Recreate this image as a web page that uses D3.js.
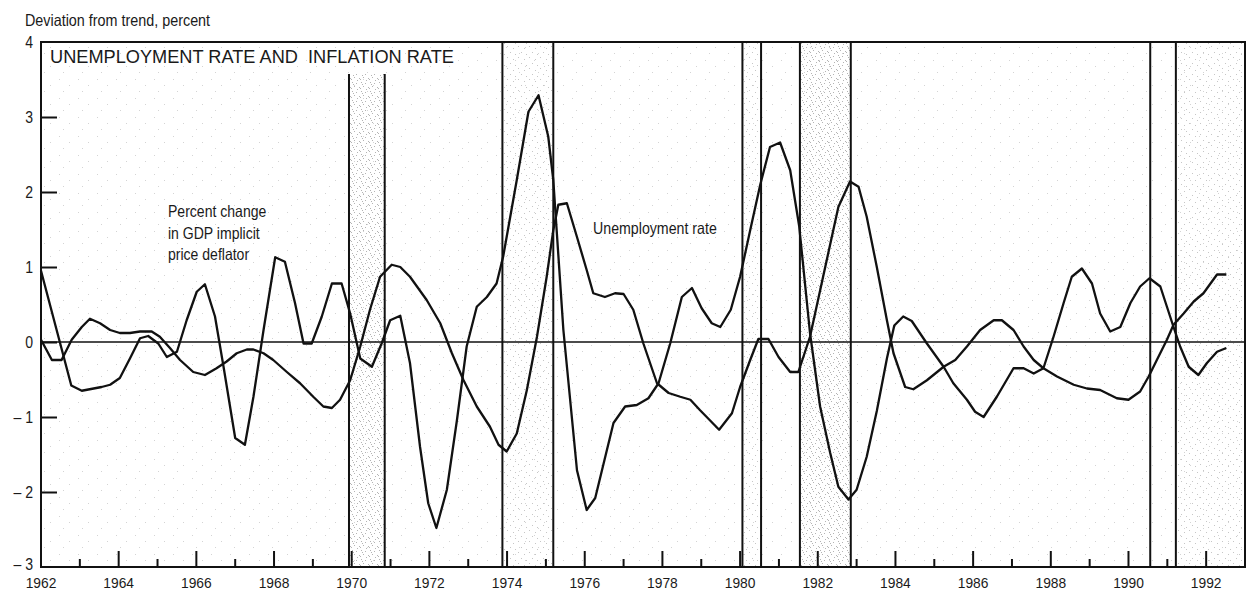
<!DOCTYPE html>
<html>
<head>
<meta charset="utf-8">
<script src="https://cdn.jsdelivr.net/npm/d3@7/dist/d3.min.js"></script>
<style>
  html, body { margin: 0; padding: 0; background: #fff; }
  svg { display: block; }
  text { font-family: "Liberation Sans", Arial, Helvetica, sans-serif; fill: #1a1a1a; }
</style>
</head>
<body>
<svg id="chart" width="1253" height="596"></svg>
<script>
// Deviation from trend (percent), [year, value]
const inflation = [
  [1962.0, 0.95], [1962.78, -0.58], [1963.05, -0.65], [1963.56, -0.6], [1963.78, -0.57],
  [1964.03, -0.48], [1964.29, -0.22], [1964.55, 0.05], [1964.76, 0.08], [1965.02, -0.02],
  [1965.24, -0.2], [1965.5, -0.13], [1965.75, 0.29], [1966.01, 0.67], [1966.22, 0.77],
  [1966.48, 0.34], [1966.7, -0.33], [1967.0, -1.28], [1967.25, -1.37], [1967.47, -0.73],
  [1967.73, 0.16], [1968.03, 1.13], [1968.28, 1.07], [1968.54, 0.52], [1968.76, -0.02],
  [1968.97, -0.02], [1969.23, 0.34], [1969.49, 0.78], [1969.74, 0.78], [1969.96, 0.38],
  [1970.22, -0.22], [1970.52, -0.33], [1970.77, -0.02], [1970.99, 0.29], [1971.25, 0.35],
  [1971.5, -0.28], [1971.76, -1.4], [1971.97, -2.15], [1972.18, -2.48], [1972.45, -1.97],
  [1972.71, -1.04], [1972.96, -0.06], [1973.22, 0.47], [1973.48, 0.6], [1973.73, 0.78],
  [1973.9, 1.14], [1974.25, 2.16], [1974.55, 3.07], [1974.81, 3.29], [1975.06, 2.74],
  [1975.19, 2.16], [1975.45, 0.16], [1975.8, -1.71], [1976.05, -2.24], [1976.27, -2.08],
  [1976.74, -1.08], [1977.04, -0.86], [1977.34, -0.84], [1977.64, -0.75], [1977.9, -0.55],
  [1978.2, -0.02], [1978.5, 0.6], [1978.76, 0.72], [1979.01, 0.45], [1979.27, 0.25],
  [1979.49, 0.2], [1979.76, 0.43], [1980.0, 0.87], [1980.26, 1.49], [1980.52, 2.1],
  [1980.77, 2.6], [1981.03, 2.66], [1981.29, 2.29], [1981.52, 1.55], [1981.8, 0.12],
  [1982.06, -0.86], [1982.32, -1.48], [1982.53, -1.93], [1982.79, -2.1],
  [1983.0, -1.97], [1983.26, -1.53], [1983.52, -0.92], [1983.78, -0.22], [1983.97, 0.22],
  [1984.2, 0.34], [1984.42, 0.28], [1984.81, -0.02], [1985.24, -0.33], [1985.49, -0.55],
  [1985.84, -0.77], [1986.05, -0.93], [1986.27, -1.0], [1986.61, -0.73], [1987.04, -0.35],
  [1987.3, -0.35], [1987.56, -0.42], [1987.81, -0.35], [1988.07, 0.07], [1988.33, 0.52],
  [1988.54, 0.87], [1988.8, 0.98], [1989.06, 0.78], [1989.27, 0.38], [1989.53, 0.14],
  [1989.79, 0.2], [1990.05, 0.52], [1990.3, 0.74], [1990.54, 0.85], [1990.82, 0.74],
  [1990.99, 0.47], [1991.16, 0.2], [1991.33, -0.06], [1991.55, -0.33], [1991.8, -0.44],
  [1992.02, -0.28], [1992.28, -0.13], [1992.52, -0.08]
];

const unemployment = [
  [1962.0, 0.03], [1962.28, -0.24], [1962.53, -0.24], [1962.79, 0.03], [1963.05, 0.2],
  [1963.26, 0.31], [1963.52, 0.25], [1963.78, 0.16], [1964.03, 0.12], [1964.29, 0.12],
  [1964.55, 0.14], [1964.85, 0.14], [1965.06, 0.07], [1965.32, -0.08], [1965.58, -0.24],
  [1965.92, -0.4], [1966.22, -0.44], [1966.52, -0.35], [1966.78, -0.26], [1967.04, -0.15],
  [1967.3, -0.1], [1967.47, -0.1], [1967.73, -0.15], [1967.98, -0.24], [1968.33, -0.4],
  [1968.67, -0.55], [1969.01, -0.73], [1969.27, -0.86], [1969.49, -0.88], [1969.7, -0.77],
  [1969.96, -0.51], [1970.22, -0.06], [1970.47, 0.43], [1970.73, 0.87], [1971.03, 1.03],
  [1971.25, 1.0], [1971.5, 0.87], [1971.93, 0.56], [1972.28, 0.25], [1972.58, -0.15],
  [1972.88, -0.51], [1973.22, -0.86], [1973.56, -1.13], [1973.78, -1.37], [1973.99, -1.46],
  [1974.25, -1.22], [1974.51, -0.64], [1974.77, 0.07], [1975.02, 0.87], [1975.19, 1.49],
  [1975.32, 1.83], [1975.54, 1.85], [1975.8, 1.4], [1976.05, 0.96], [1976.22, 0.65],
  [1976.52, 0.6], [1976.78, 0.65], [1977.0, 0.64], [1977.25, 0.43], [1977.51, -0.02],
  [1977.86, -0.55], [1978.16, -0.68], [1978.46, -0.73], [1978.72, -0.77], [1978.97, -0.91],
  [1979.46, -1.17], [1979.79, -0.95], [1980.0, -0.6], [1980.26, -0.24], [1980.47, 0.04],
  [1980.73, 0.04], [1980.99, -0.2], [1981.29, -0.4], [1981.5, -0.4], [1981.8, 0.07],
  [1982.23, 1.09], [1982.53, 1.8], [1982.83, 2.14], [1983.05, 2.07], [1983.26, 1.67],
  [1983.52, 1.0], [1983.78, 0.29], [1983.95, -0.15], [1984.25, -0.6], [1984.46, -0.63],
  [1984.81, -0.51], [1985.24, -0.33], [1985.54, -0.24], [1985.84, -0.06], [1986.18, 0.16],
  [1986.53, 0.29], [1986.74, 0.29], [1987.04, 0.16], [1987.3, -0.06], [1987.56, -0.24],
  [1987.81, -0.35], [1988.16, -0.46], [1988.59, -0.57], [1988.93, -0.62], [1989.27, -0.64],
  [1989.7, -0.75], [1990.0, -0.77], [1990.3, -0.66], [1990.52, -0.46], [1990.73, -0.24],
  [1990.99, 0.03], [1991.16, 0.23], [1991.42, 0.38], [1991.68, 0.54], [1991.93, 0.65],
  [1992.28, 0.9], [1992.52, 0.9]
];

// Recession periods (peak, trough) marked by vertical rules and stippling
const recessions = [
  { start: 1969.93, end: 1970.85, shade: "dense", fromTop: false },
  { start: 1973.88, end: 1975.19, shade: "light", fromTop: true },
  { start: 1980.06, end: 1980.54, shade: "light", fromTop: true },
  { start: 1981.54, end: 1982.85, shade: "dense", fromTop: true },
  { start: 1990.56, end: 1991.22, shade: "none", fromTop: true }
];
// stippled tail after the last trough
const tailShade = [1991.22, 1993];

const yTicks = [-3, -2, -1, 0, 1, 2, 3, 4];
const xYears = d3.range(1962, 1993);         // a tick every year
const xLabelYears = d3.range(1962, 1993, 2);  // labelled every other year

const svg = d3.select("#chart");
const mLeft = 41, mRight = 1245, mTop = 42, mBottom = 567;

const x = d3.scaleLinear().domain([1962, 1993]).range([mLeft, mRight]);
const y = d3.scaleLinear().domain([-3, 4]).range([mBottom, mTop]);

// squeeze a text horizontally to imitate a condensed face
function condense(sel, k) {
  sel.each(function () {
    const w = this.getComputedTextLength();
    d3.select(this).attr("textLength", (w * k).toFixed(1)).attr("lengthAdjust", "spacingAndGlyphs");
  });
  return sel;
}

// stipple patterns (fixed dot layouts)
const defs = svg.append("defs");
function stipple(id, size, dots, color) {
  const p = defs.append("pattern").attr("id", id).attr("patternUnits", "userSpaceOnUse")
    .attr("width", size).attr("height", size);
  dots.forEach(([dx, dy]) => p.append("rect").attr("x", dx).attr("y", dy)
    .attr("width", 1).attr("height", 1).attr("fill", color));
}
stipple("dense", 9, [[1,1],[5,2],[3,5],[8,6],[0,7],[6,8],[2,3]], "#b4b4b4");
stipple("light", 11, [[1,2],[7,4],[4,8],[9,10]], "#c6c6c6");
stipple("faint", 19, [[2,3],[12,9],[6,15]], "#d4d4d4");

// faint halftone over the plot area
svg.append("rect").attr("x", mLeft).attr("y", mTop).attr("width", mRight - mLeft)
  .attr("height", mBottom - mTop).attr("fill", "url(#faint)");

const bandTop = 74;
recessions.filter(r => r.shade !== "none").forEach(r => {
  const y0 = r.fromTop ? mTop : bandTop;
  svg.append("rect").attr("x", x(r.start)).attr("y", y0)
    .attr("width", x(r.end) - x(r.start)).attr("height", mBottom - y0)
    .attr("fill", `url(#${r.shade})`);
});
svg.append("rect").attr("x", x(tailShade[0])).attr("y", mTop)
  .attr("width", x(tailShade[1]) - x(tailShade[0])).attr("height", mBottom - mTop)
  .attr("fill", "url(#light)");

// recession rules
recessions.forEach(r => {
  const y0 = r.fromTop ? mTop : bandTop;
  [r.start, r.end].forEach(t => {
    svg.append("line").attr("x1", x(t)).attr("x2", x(t)).attr("y1", y0).attr("y2", mBottom)
      .attr("stroke", "#111").attr("stroke-width", 2);
  });
});

// frame: left axis, top and right borders, bottom axis
svg.append("rect").attr("x", mLeft).attr("y", mTop).attr("width", mRight - mLeft)
  .attr("height", mBottom - mTop).attr("fill", "none").attr("stroke", "#111").attr("stroke-width", 2);

// zero line
svg.append("line").attr("x1", mLeft).attr("x2", mRight).attr("y1", y(0)).attr("y2", y(0))
  .attr("stroke", "#111").attr("stroke-width", 1.6);

// y axis ticks and labels
const yAxis = d3.axisRight(y).tickValues(yTicks.filter(v => v > -3 && v < 4)).tickSize(16).tickFormat("");
svg.append("g").attr("transform", `translate(${mLeft},0)`).call(yAxis)
  .call(g => g.select(".domain").remove())
  .call(g => g.selectAll("line").attr("stroke", "#111").attr("stroke-width", 2));
condense(svg.append("g").selectAll("text").data(yTicks).join("text")
  .attr("x", 33).attr("y", d => d === -3 ? y(d) + 3 : y(d) + 5.5)
  .attr("text-anchor", "end").attr("font-size", 16)
  .text(d => d < 0 ? "\u2013 " + Math.abs(d) : String(d)), 0.88);

// x axis ticks: long on even years, short on odd years
const xg = svg.append("g");
xg.selectAll("line").data(xYears.filter(d => d > 1962)).join("line")
  .attr("x1", d => x(d)).attr("x2", d => x(d))
  .attr("y1", mBottom).attr("y2", d => mBottom - (d % 2 === 0 ? 16 : 8))
  .attr("stroke", "#111").attr("stroke-width", 2);
condense(xg.selectAll("text").data(xLabelYears).join("text")
  .attr("x", d => x(d)).attr("y", 588)
  .attr("text-anchor", "middle").attr("font-size", 15)
  .text(d => d), 0.92);

// series lines
const line = d3.line().x(d => x(d[0])).y(d => y(d[1]));
[inflation, unemployment].forEach(s => {
  svg.append("path").datum(s).attr("d", line)
    .attr("fill", "none").attr("stroke", "#111").attr("stroke-width", 2.3)
    .attr("stroke-linejoin", "round");
});

// titles and labels
condense(svg.append("text").attr("x", 25).attr("y", 26)
  .attr("font-size", 16.5).text("Deviation from trend, percent"), 0.87);
svg.append("text").attr("x", 50).attr("y", 63)
  .attr("font-size", 18.2).attr("fill", "#111")
  .text("UNEMPLOYMENT RATE AND \u00a0INFLATION RATE");

["Percent change", "in GDP implicit", "price deflator"].forEach((t, i) => {
  condense(svg.append("text").attr("x", 168).attr("y", 217 + i * 21.5)
    .attr("font-size", 16.5).text(t), 0.85);
});
condense(svg.append("text").attr("font-size", 16.5)
  .attr("x", 593).attr("y", 234).text("Unemployment rate"), 0.86);
</script>
</body>
</html>
